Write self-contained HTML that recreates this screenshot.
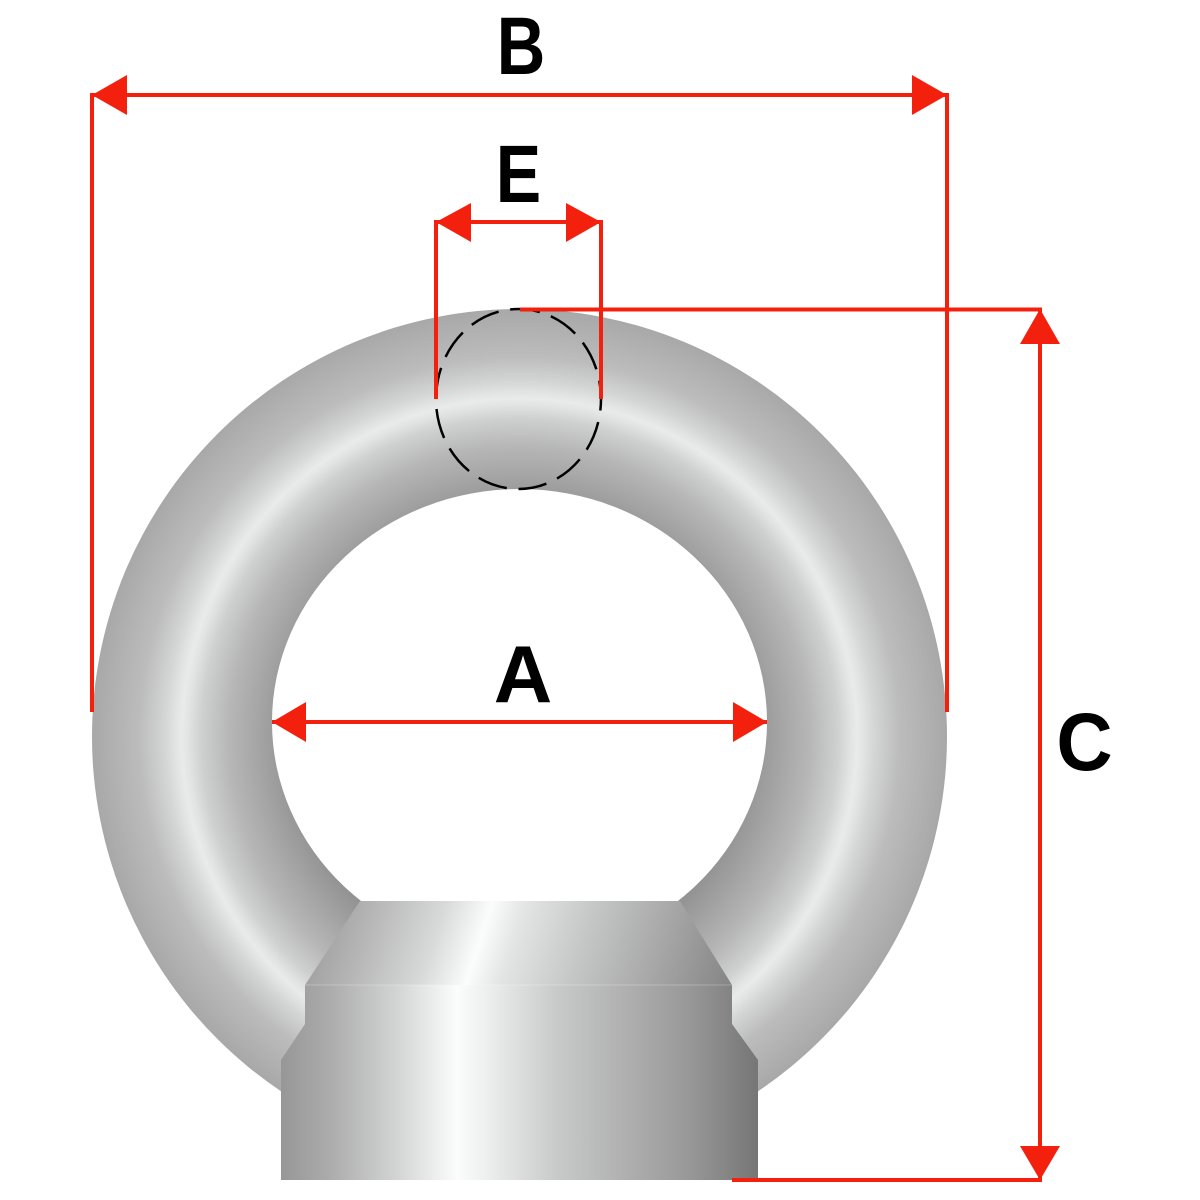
<!DOCTYPE html>
<html>
<head>
<meta charset="utf-8">
<style>
html,body{margin:0;padding:0;background:#fff}
svg{display:block}
text{font-family:"Liberation Sans",sans-serif;font-weight:700;fill:#000}
</style>
</head>
<body>
<svg width="1200" height="1200" viewBox="0 0 1200 1200" xmlns="http://www.w3.org/2000/svg">
<defs>
<radialGradient id="ring" gradientUnits="userSpaceOnUse" cx="519.5" cy="736.5" r="427.5">
<stop offset="0.52" stop-color="#8e8e8e"/>
<stop offset="0.585" stop-color="#9e9e9e"/>
<stop offset="0.678" stop-color="#b6b6b6"/>
<stop offset="0.745" stop-color="#cfd0d0"/>
<stop offset="0.775" stop-color="#e2e3e3"/>
<stop offset="0.79" stop-color="#e9ebea"/>
<stop offset="0.805" stop-color="#e2e3e3"/>
<stop offset="0.83" stop-color="#d4d5d5"/>
<stop offset="0.889" stop-color="#bcbcbc"/>
<stop offset="1" stop-color="#a8a8a8"/>
</radialGradient>
<linearGradient id="body" gradientUnits="userSpaceOnUse" x1="281" y1="0" x2="758" y2="0">
<stop offset="0" stop-color="#979797"/>
<stop offset="0.1" stop-color="#ababab"/>
<stop offset="0.24" stop-color="#d2d3d3"/>
<stop offset="0.369" stop-color="#fbfcfc"/>
<stop offset="0.43" stop-color="#eeefef"/>
<stop offset="0.58" stop-color="#c8c9c9"/>
<stop offset="0.72" stop-color="#b0b0b0"/>
<stop offset="0.86" stop-color="#979797"/>
<stop offset="1" stop-color="#757675"/>
</linearGradient>
<linearGradient id="cone" gradientUnits="userSpaceOnUse" x1="311" y1="891" x2="730" y2="1026">
<stop offset="0" stop-color="#989898"/>
<stop offset="0.14" stop-color="#b4b4b4"/>
<stop offset="0.3" stop-color="#d8d9d9"/>
<stop offset="0.4" stop-color="#fbfcfc"/>
<stop offset="0.47" stop-color="#e4e5e5"/>
<stop offset="0.62" stop-color="#c6c7c7"/>
<stop offset="0.8" stop-color="#a6a6a6"/>
<stop offset="1" stop-color="#808080"/>
</linearGradient>
</defs>

<!-- ring -->
<path fill="url(#ring)" fill-rule="evenodd" d="M92 736.500a427.500 427.500 0 1 0 855 0a427.500 427.500 0 1 0 -855 0Z M272 722a247.500 233 0 1 0 495 0a247.500 233 0 1 0 -495 0Z"/>

<!-- nut -->
<polygon fill="url(#cone)" points="360,901 680,901 732,985 305,985"/>
<polygon fill="url(#body)" points="305,985 732,985 732,1024 758,1060 758,1180 281,1180 281,1060 305,1024"/>
<path d="M305 985H732" stroke="#fff" stroke-opacity=".25" stroke-width="1" fill="none"/>

<!-- dashed section circle -->
<ellipse cx="518.500" cy="399" rx="90" ry="82.500" fill="none" stroke="#000" stroke-width="2.500" stroke-dasharray="30 11.800" stroke-dashoffset="30" transform="rotate(90 518.500 399)"/>

<!-- red dimension lines -->
<g stroke="#f4200e" stroke-width="4" fill="none">
<path d="M92 712V95H947V712"/>
<path d="M436 399V222H601V399"/>
<path d="M520 309.500H1040V1180H732"/>
<path d="M272 722H767"/>
</g>
<g fill="#f4200e">
<polygon points="92,95 127,75 127,115"/>
<polygon points="947,95 912,75 912,115"/>
<polygon points="436,222 471,203 471,242"/>
<polygon points="601,222 566,203 566,242"/>
<polygon points="272,722 306,702 306,742"/>
<polygon points="767,722 733,702 733,742"/>
<polygon points="1040,309 1020,344 1060,344"/>
<polygon points="1040,1180 1020,1146 1060,1146"/>
</g>

<!-- labels -->
<text transform="translate(521 74) scale(.82 1)" font-size="82" text-anchor="middle">B</text>
<text transform="translate(518.500 202) scale(.83 1)" font-size="82" text-anchor="middle">E</text>
<text x="523" y="702" font-size="81" text-anchor="middle">A</text>
<text transform="translate(1084.500 770) scale(.95 1)" font-size="82" text-anchor="middle">C</text>
</svg>
</body>
</html>
